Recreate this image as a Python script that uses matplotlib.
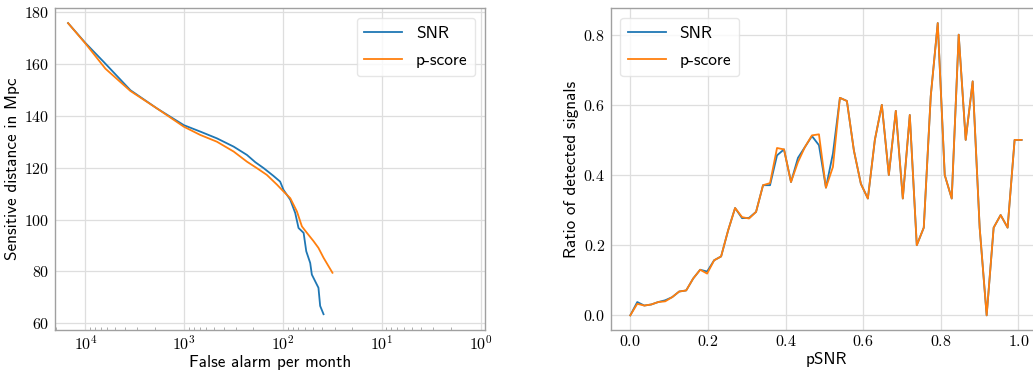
import matplotlib
matplotlib.use("Agg")
import matplotlib.pyplot as plt
import matplotlib.ticker as mticker
import numpy as np

plt.rcParams['mathtext.fontset'] = 'cm'

# ---- left panel data: sensitive distance vs false alarm per month ----
far_snr = [1.50e4, 1.00e4, 6.53e3, 3.51e3, 1.88e3, 1.01e3, 6.87e2, 4.67e2,
           3.16e2, 2.32e2, 1.91e2, 1.57e2, 1.25e2, 1.07e2, 9.89e1, 8.45e1,
           7.53e1, 6.97e1, 6.19e1, 5.82e1, 5.31e1, 5.11e1, 4.38e1, 4.21e1,
           3.89e1]
dist_snr = [175.9, 168.2, 160.9, 150.0, 142.9, 136.5, 134.0, 131.4,
            128.2, 125.0, 122.2, 119.9, 116.9, 114.7, 111.5, 107.7,
            102.6, 96.8, 94.9, 87.8, 83.3, 78.8, 73.7, 66.7,
            63.5]

far_ps = [1.50e4, 1.00e4, 6.28e3, 3.51e3, 1.88e3, 1.01e3, 6.87e2, 4.67e2,
          3.16e2, 2.32e2, 1.84e2, 1.46e2, 1.15e2, 9.89e1, 8.45e1, 7.24e1,
          6.44e1, 5.73e1, 4.91e1, 4.38e1, 3.89e1, 3.47e1, 3.16e1]
dist_ps = [175.9, 168.0, 158.3, 149.7, 142.9, 135.9, 132.7, 130.1,
           126.3, 122.4, 119.9, 117.3, 113.5, 110.9, 108.3, 103.2,
           97.4, 94.9, 91.7, 89.1, 85.3, 82.1, 79.5]

# ---- right panel data: ratio of detected signals vs pSNR ----
psnr = [0.000, 0.018, 0.036, 0.054, 0.072, 0.090, 0.108, 0.126, 0.144, 0.162,
        0.180, 0.198, 0.216, 0.234, 0.252, 0.270, 0.288, 0.306, 0.324, 0.342,
        0.360, 0.378, 0.396, 0.414, 0.432, 0.450, 0.468, 0.486, 0.504, 0.522,
        0.540, 0.558, 0.576, 0.594, 0.612, 0.630, 0.648, 0.666, 0.684, 0.702,
        0.720, 0.738, 0.756, 0.774, 0.792, 0.810, 0.828, 0.846, 0.864, 0.882,
        0.900, 0.918, 0.936, 0.954, 0.972, 0.990, 1.008]
ratio_snr = [0.000, 0.038, 0.028, 0.031, 0.038, 0.043, 0.052, 0.068, 0.071, 0.105,
             0.130, 0.125, 0.157, 0.168, 0.242, 0.306, 0.277, 0.278, 0.295, 0.371,
             0.371, 0.456, 0.473, 0.380, 0.449, 0.480, 0.511, 0.485, 0.364, 0.461,
             0.620, 0.611, 0.470, 0.375, 0.333, 0.500, 0.600, 0.400, 0.583, 0.333,
             0.571, 0.200, 0.250, 0.625, 0.833, 0.400, 0.333, 0.800, 0.500, 0.667,
             0.250, 0.000, 0.250, 0.286, 0.250, 0.500, 0.500]
ratio_ps = [0.000, 0.033, 0.028, 0.031, 0.038, 0.040, 0.052, 0.068, 0.071, 0.105,
            0.130, 0.119, 0.157, 0.168, 0.242, 0.306, 0.280, 0.276, 0.295, 0.371,
            0.377, 0.477, 0.473, 0.380, 0.437, 0.480, 0.513, 0.516, 0.364, 0.423,
            0.620, 0.611, 0.470, 0.375, 0.333, 0.500, 0.600, 0.400, 0.583, 0.333,
            0.571, 0.200, 0.250, 0.625, 0.833, 0.400, 0.333, 0.800, 0.500, 0.667,
            0.250, 0.000, 0.250, 0.286, 0.250, 0.500, 0.500]

labels = ["SNR", "p-score"]
blue, orange = "#1f77b4", "#ff7f0e"
spine_col = "#a0a0a0"
grid_col = "#dedede"
sans = "cmss10"

fig = plt.figure(figsize=(10.33, 3.71), dpi=100)
ax1 = fig.add_axes([0.0532, 0.1105, 0.4163, 0.867])
ax2 = fig.add_axes([0.5912, 0.1105, 0.4167, 0.867])


def style(ax):
    for s in ax.spines.values():
        s.set_color(spine_col)
        s.set_linewidth(1.0)
    ax.grid(True, which='major', color=grid_col, linewidth=0.9)
    ax.set_axisbelow(True)
    ax.tick_params(which='major', length=0, labelsize=11.5, pad=4)
    ax.tick_params(axis='x', which='major', pad=3)


leg_kw = dict(prop={'family': sans, 'size': 12.5}, handlelength=2.17, borderpad=0.45,
              labelspacing=0.7, borderaxespad=0.55, handletextpad=0.8,
              fancybox=True, framealpha=0.8, edgecolor='#e0e0e0')

# left
ax1.plot(far_snr, dist_snr, color=blue, lw=1.3, label=labels[0])
ax1.plot(far_ps, dist_ps, color=orange, lw=1.3, label=labels[1])
ax1.set_xscale('log')
ax1.set_xlim(10 ** 4.309, 10 ** -0.0445)
ax1.set_ylim(57.4, 181.6)
ax1.xaxis.set_major_locator(mticker.LogLocator(base=10, numticks=10))
ax1.xaxis.set_major_formatter(mticker.FuncFormatter(lambda v, p: r'$10^{%d}$' % round(np.log10(v))))
ax1.xaxis.set_minor_locator(mticker.LogLocator(base=10, subs=np.arange(2, 10), numticks=20))
ax1.xaxis.set_minor_formatter(mticker.NullFormatter())
ax1.yaxis.set_major_locator(mticker.MultipleLocator(20))
ax1.yaxis.set_major_formatter(mticker.FuncFormatter(lambda v, p: r'$%d$' % v))
style(ax1)
ax1.tick_params(which='minor', axis='x', length=2.5, width=0.6, color=spine_col, direction='in')
ax1.set_xlabel("False alarm per month", fontfamily=sans, fontsize=12.3, labelpad=2)
ax1.set_ylabel("Sensitive distance in Mpc", fontfamily=sans, fontsize=12.3, labelpad=3)
ax1.legend(loc='upper right', **leg_kw)

# right
ax2.plot(psnr, ratio_snr, color=blue, lw=1.3, label=labels[0])
ax2.plot(psnr, ratio_ps, color=orange, lw=1.3, label=labels[1])
ax2.set_xlim(-0.0504, 1.0584)
ax2.set_ylim(-0.0417, 0.875)
ax2.xaxis.set_major_locator(mticker.MultipleLocator(0.2))
ax2.yaxis.set_major_locator(mticker.MultipleLocator(0.2))
fmt = mticker.FuncFormatter(lambda v, p: r'$%.1f$' % (0.0 if abs(v) < 1e-9 else v))
ax2.xaxis.set_major_formatter(fmt)
ax2.yaxis.set_major_formatter(fmt)
style(ax2)
ax2.set_xlabel("pSNR", fontfamily=sans, fontsize=12.3, labelpad=2)
ax2.set_ylabel("Ratio of detected signals", fontfamily=sans, fontsize=12.3, labelpad=3)
ax2.legend(loc='upper left', **leg_kw)

fig.savefig("out.png", dpi=100)
